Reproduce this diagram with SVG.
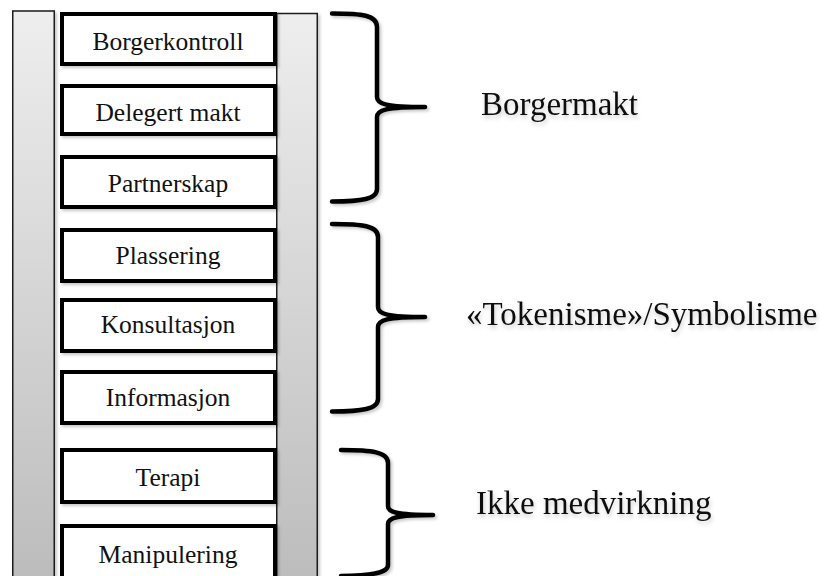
<svg xmlns="http://www.w3.org/2000/svg" width="832" height="576" viewBox="0 0 832 576">
  <defs>
    <linearGradient id="railGrad" x1="0" y1="0" x2="0" y2="1">
      <stop offset="0" stop-color="#eeeeee"/>
      <stop offset="1" stop-color="#bbbbbb"/>
    </linearGradient>
    <filter id="shadow" x="-20%" y="-20%" width="150%" height="150%">
      <feDropShadow dx="2" dy="2" stdDeviation="1.5" flood-color="#000" flood-opacity="0.22"/>
    </filter>
    <filter id="textShadow" x="-10%" y="-30%" width="130%" height="180%">
      <feDropShadow dx="1" dy="3" stdDeviation="2" flood-color="#000" flood-opacity="0.2"/>
    </filter>
  </defs>
  <style>
    .rail { fill: url(#railGrad); stroke: #1a1a1a; stroke-width: 1.5; filter: url(#shadow); }
    .box { fill: #ffffff; stroke: #000000; stroke-width: 4; filter: url(#shadow); }
    .boxText { font-family: "Liberation Serif", "Times New Roman", serif; font-size: 25.5px; fill: #111111; text-anchor: middle; }
    .brace { fill: none; stroke: #000000; stroke-width: 4.5; stroke-linecap: round; stroke-linejoin: round; filter: url(#shadow); }
    .label { font-family: "Liberation Serif", "Times New Roman", serif; font-size: 33px; fill: #111111; filter: url(#textShadow); }
  </style>
  <rect width="832" height="576" fill="#ffffff"/>

  <g id="rails">
    <rect id="rail-left" class="rail" x="12.75" y="11" width="41.5" height="580"/>
    <rect id="rail-right" class="rail" x="276.75" y="13.5" width="40.5" height="580"/>
  </g>

  <g id="node-borgerkontroll">
    <rect class="box" x="62" y="14" width="213" height="50"/>
    <text class="boxText" x="168" y="50">Borgerkontroll</text>
  </g>
  <g id="node-delegert-makt">
    <rect class="box" x="62" y="86" width="213" height="48"/>
    <text class="boxText" x="168" y="120.5">Delegert makt</text>
  </g>
  <g id="node-partnerskap">
    <rect class="box" x="62" y="157" width="213" height="50"/>
    <text class="boxText" x="168" y="192">Partnerskap</text>
  </g>
  <g id="node-plassering">
    <rect class="box" x="62" y="230" width="213" height="51"/>
    <text class="boxText" x="168" y="264">Plassering</text>
  </g>
  <g id="node-konsultasjon">
    <rect class="box" x="62" y="300" width="213" height="51"/>
    <text class="boxText" x="168" y="333">Konsultasjon</text>
  </g>
  <g id="node-informasjon">
    <rect class="box" x="62" y="372" width="213" height="51"/>
    <text class="boxText" x="168" y="406">Informasjon</text>
  </g>
  <g id="node-terapi">
    <rect class="box" x="62" y="450" width="213" height="52"/>
    <text class="boxText" x="168" y="486">Terapi</text>
  </g>
  <g id="node-manipulering">
    <rect class="box" x="62" y="526" width="213" height="60"/>
    <text class="boxText" x="168" y="563">Manipulering</text>
  </g>

  <g id="connectors">
    <path class="brace" d="M332,13.5 C362,13.5 377,15 377,27 L377,97 C377,104 386,107 425,107 C386,107 377,110 377,117 L377,189 C377,199 362,201.5 332,201.5"/>
    <path class="brace" d="M332,224 C362,224 378,225.5 378,237 L378,307 C378,314 387,317 425,317 C387,317 378,320 378,327 L378,399 C378,409 362,411.5 332,411.5"/>
    <path class="brace" d="M341,450 C372,450 388,452 388,463 L388,506 C388,512 396,515 433,515 C396,515 388,518 388,524 L388,565 C388,573 372,575.5 341,576"/>
  </g>

  <g id="labels">
    <text id="label-borgermakt" class="label" x="481" y="115">Borgermakt</text>
    <text id="label-tokenisme" class="label" x="466" y="325">«Tokenisme»/Symbolisme</text>
    <text id="label-ikke" class="label" x="476" y="514">Ikke medvirkning</text>
  </g>
</svg>
